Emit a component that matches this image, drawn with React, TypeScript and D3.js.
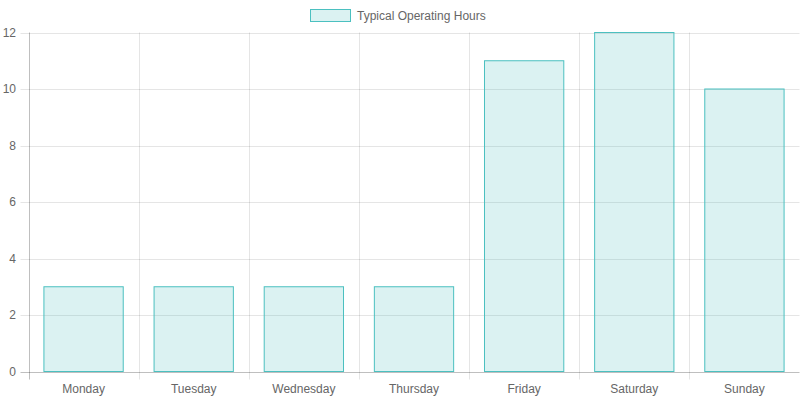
import React from "react";
import * as d3 from "d3";

const days = ["Monday", "Tuesday", "Wednesday", "Thursday", "Friday", "Saturday", "Sunday"];
const hours = [3, 3, 3, 3, 11, 12, 10];
const yTicks = [0, 2, 4, 6, 8, 10, 12];
const seriesLabel = "Typical Operating Hours";

const W = 800, H = 400;
const left = 28.5, right = 799.5, top = 32.5, bottom = 371.5;
const font = "'Liberation Sans', Arial, sans-serif";
const grid = "rgba(0,0,0,0.1)";
const textColor = "#666";

const App: React.FC = () => {
  const x = d3.scaleBand().domain(days).range([left, right]);
  const y = d3.scaleLinear().domain([0, 12]).range([bottom, top]);
  const barW = x.bandwidth() * 0.8 * 0.9;

  return (
    <div style={{ position: "absolute", left: 0, top: 0 }}>
      <svg width={W} height={H} style={{ display: "block", fontFamily: font }}>
        {/* legend */}
        <g>
          <rect x={310.5} y={9.5} width={40} height={12} fill="rgba(75,192,192,0.2)" stroke="rgb(75,192,192)" strokeWidth={1} />
          <text x={357} y={16} dominantBaseline="central" fontSize={12} fill={textColor}>{seriesLabel}</text>
        </g>

        {/* horizontal grid + y ticks */}
        {yTicks.map(t => (
          <g key={t}>
            <line x1={left - 8} x2={right} y1={Math.round(y(t)) + 0.5} y2={Math.round(y(t)) + 0.5} stroke={t === 0 ? "rgba(0,0,0,0.25)" : grid} />
            <text x={16} y={y(t)} textAnchor="end" dominantBaseline="central" fontSize={12} fill={textColor}>{t}</text>
          </g>
        ))}

        {/* vertical grid + x ticks */}
        {days.concat(["end"]).map((d, i) => {
          const xx = Math.round(left + i * x.step()) + 0.5;
          return <line key={d} x1={xx} x2={xx} y1={top} y2={bottom + 8} stroke={i === 0 ? "rgba(0,0,0,0.25)" : grid} />;
        })}

        {/* bars */}
        {days.map((d, i) => {
          const cx = (x(d) ?? 0) + x.bandwidth() / 2;
          return (
            <rect key={d} x={cx - barW / 2} y={y(hours[i])} width={barW} height={y(0) - y(hours[i])}
              fill="rgba(75,192,192,0.2)" stroke="rgb(75,192,192)" strokeWidth={1} />
          );
        })}

        {/* x labels */}
        {days.map(d => (
          <text key={d} x={(x(d) ?? 0) + x.bandwidth() / 2} y={389} textAnchor="middle" dominantBaseline="central" fontSize={12} fill={textColor}>{d}</text>
        ))}
      </svg>
    </div>
  );
};

export default App;
